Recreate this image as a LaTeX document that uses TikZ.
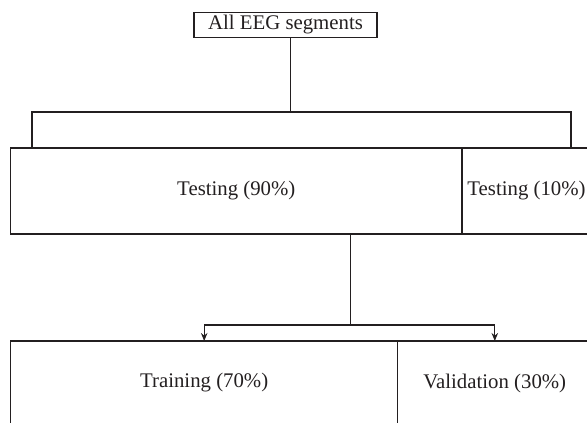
\documentclass[tikz,border=0pt]{standalone}
\usepackage{fontspec}
\setmainfont{Liberation Serif}
\usetikzlibrary{arrows.meta}
\definecolor{ink}{HTML}{231F20}

\begin{document}
\begin{tikzpicture}
[x=1pt, y=-1pt,
box/.style ={rectangle, draw=ink, line width=1.1pt, text=ink,
inner sep=0pt, outer sep=0pt,
font=\fontsize{20.8}{24}\selectfont},
link/.style ={draw=ink, line width=1.1pt},
tip/.style ={-{Stealth[length=8pt,width=6.5pt]}}]

\useasboundingbox (0,0) rectangle (587,423);
\clip (0,0) rectangle (587,423);

% top
\node (all) [box, minimum width=183pt, minimum height=25pt] at (285.5,24.8) {All EEG segments};
% row 1
\node (test90) [box, minimum width=451.3pt, minimum height=86pt] at (236.3,191) {Testing (90\%)};
\node (test10) [box, minimum width=129pt, minimum height=86pt] at (526.5,191) {Testing (10\%)};
% row 2
\node (train) [box, minimum width=387pt, minimum height=84pt] at (204.2,383) {Training (70\%)};
\node (valid) [box, minimum width=194pt, minimum height=84pt] at (494.8,383) {Validation (30\%)};

\coordinate (fork) at (290.7,112);
\coordinate (forkl) at (32,112);
\coordinate (forkr) at (571,112);
\coordinate (split) at (350.3,325);

\draw[link] (all.south -| fork) -- (fork);
\draw[link] (forkl |- test90.north) -- (forkl) -- (forkr) -- (forkr |- test10.north);
\draw[link] (test90.south -| split) -- (split);
\draw[link, tip] (split) -| (train.north);
\draw[link, tip] (split) -| (valid.north);
\end{tikzpicture}
\end{document}
